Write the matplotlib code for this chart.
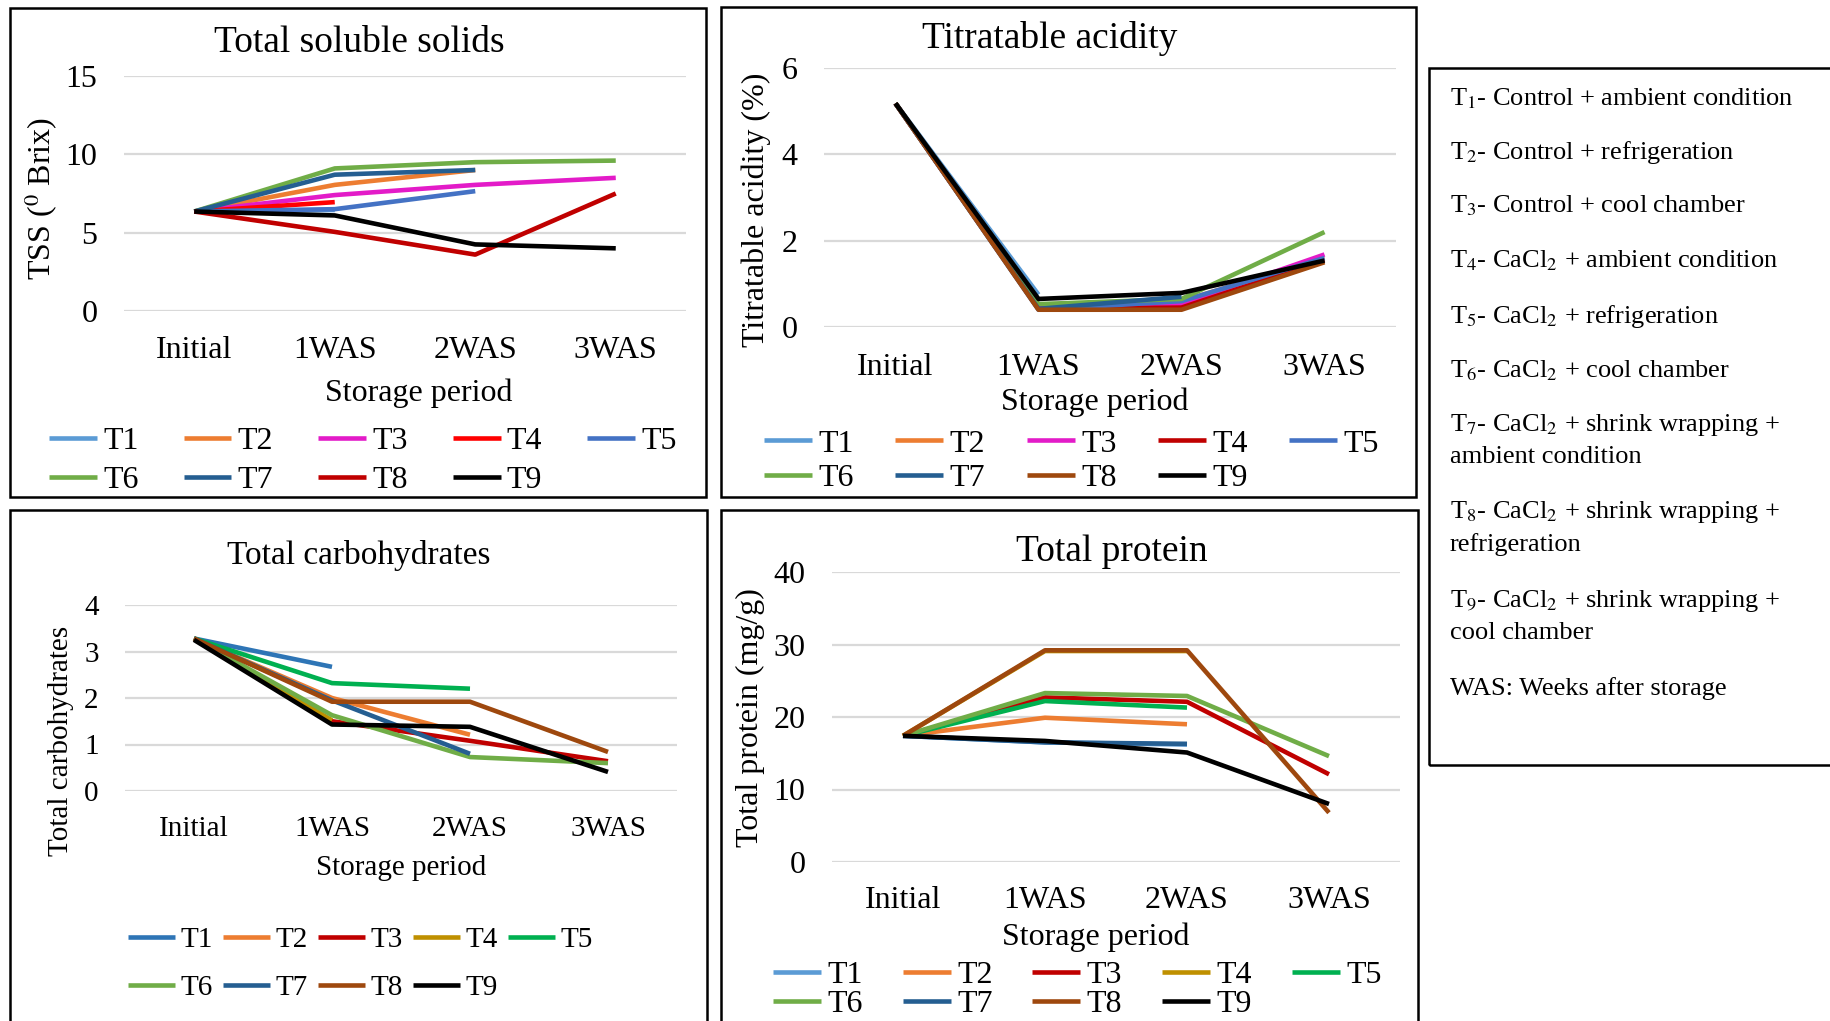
import numpy as np
import matplotlib
matplotlib.use("Agg")
import matplotlib.pyplot as plt
from matplotlib.patches import Rectangle

plt.rcParams['font.family'] = ['Liberation Serif', 'DejaVu Serif']
plt.rcParams['mathtext.fontset'] = 'stix'

W, H = 1830, 1021
nan = np.nan

periods = ['Initial', '1WAS', '2WAS', '3WAS']
treatments = ['T1', 'T2', 'T3', 'T4', 'T5', 'T6', 'T7', 'T8', 'T9']

# Total soluble solids (deg Brix)
tss = [
    [6.35, 6.45, nan, nan],
    [6.35, 8.05, 9.0, nan],
    [6.35, 7.4, 8.05, 8.5],
    [6.35, 6.95, nan, nan],
    [6.35, 6.5, 7.65, nan],
    [6.35, 9.1, 9.5, 9.6],
    [6.35, 8.7, 9.0, nan],
    [6.35, 5.05, 3.6, 7.5],
    [6.35, 6.1, 4.25, 4.0],
]
# Titratable acidity (%)
acidity = [
    [5.18, 0.75, nan, nan],
    [5.18, 0.45, 0.6, 1.6],
    [5.18, 0.5, 0.53, 1.68],
    [5.18, 0.42, 0.45, 1.55],
    [5.18, 0.4, 0.6, 1.6],
    [5.18, 0.53, 0.65, 2.2],
    [5.18, 0.42, 0.7, nan],
    [5.18, 0.4, 0.4, 1.5],
    [5.18, 0.65, 0.79, 1.54],
]
# Total carbohydrates
carbs = [
    [3.28, 2.67, nan, nan],
    [3.28, 2.0, 1.21, nan],
    [3.28, 1.5, 1.08, 0.64],
    [3.28, 1.52, nan, nan],
    [3.28, 2.32, 2.2, nan],
    [3.28, 1.63, 0.73, 0.6],
    [3.28, 1.95, 0.8, nan],
    [3.28, 1.92, 1.92, 0.84],
    [3.25, 1.43, 1.38, 0.41],
]
# Total protein (mg/g)
protein = [
    [17.4, 16.5, 16.2, nan],
    [17.4, 19.9, 19.0, nan],
    [17.4, 22.7, 22.1, 12.1],
    [17.4, 29.1, 29.1, nan],
    [17.4, 22.2, 21.3, nan],
    [17.4, 23.3, 22.9, 14.6],
    [17.4, 16.5, 16.3, nan],
    [17.4, 29.2, 29.2, 6.8],
    [17.4, 16.7, 15.1, 8.0],
]

col_tss = ['#5B9BD5', '#ED7D31', '#E31BC8', '#FF0000', '#4472C4',
           '#70AD47', '#255E91', '#C00000', '#000000']
col_acid = ['#5B9BD5', '#ED7D31', '#E31BC8', '#C00000', '#4472C4',
            '#70AD47', '#255E91', '#9E480E', '#000000']
col_carb = ['#2E75B6', '#ED7D31', '#C00000', '#BF9000', '#00B050',
            '#70AD47', '#255E91', '#9E480E', '#000000']
col_prot = ['#5B9BD5', '#ED7D31', '#C00000', '#BF9000', '#00B050',
            '#70AD47', '#255E91', '#9E480E', '#000000']

fig = plt.figure(figsize=(W / 100, H / 100), dpi=100)


def rect(l, t, r, b):
    return [l / W, 1 - b / H, (r - l) / W, (b - t) / H]


def ftext(x, y, s, size, **kw):
    fig.text(x / W, 1 - y / H, s, fontsize=size, ha=kw.pop('ha', 'center'),
             va=kw.pop('va', 'center'), **kw)


def panel(box, vals, colors, ymax, ystep, fs, xpad):
    ax = fig.add_axes(rect(*box))
    x = np.arange(len(periods))
    for name, v, c in zip(treatments, vals, colors):
        ax.plot(x, v, color=c, lw=3.3, label=name, solid_capstyle='butt')
    ax.set_xlim(-0.5, 3.5)
    ax.set_ylim(0, ymax)
    ax.set_yticks(np.arange(0, ymax + 0.1, ystep))
    ax.set_xticks(x)
    ax.set_xticklabels(periods)
    ax.yaxis.grid(True, color='#D9D9D9', lw=1.6)
    ax.set_axisbelow(True)
    for s in ax.spines.values():
        s.set_visible(False)
    ax.tick_params(axis='y', length=0, pad=19, labelsize=fs)
    ax.tick_params(axis='x', length=0, pad=xpad, labelsize=fs)
    return ax


def legend(ax, x, yc, fs, colsp, rowsp, hlen=1.5):
    h, l = ax.get_legend_handles_labels()
    order = [0, 5, 1, 6, 2, 7, 3, 8, 4]
    fig.legend([h[i] for i in order], [l[i] for i in order],
               loc='center left', bbox_to_anchor=(x / W, 1 - yc / H),
               ncol=5, frameon=False, fontsize=fs, handlelength=hlen,
               handletextpad=0.2, columnspacing=colsp, labelspacing=rowsp,
               borderpad=0, borderaxespad=0)


# panel frames
for l, t, r, b in [(10, 8, 706, 497), (721, 7, 1416, 497),
                   (10, 510, 707, 1040), (721, 510, 1418, 1040),
                   (1429, 68, 1840, 765)]:
    fig.patches.append(Rectangle((l / W, 1 - b / H), (r - l) / W, (b - t) / H,
                                 transform=fig.transFigure, fill=False,
                                 ec='black', lw=1.8))

# Total soluble solids
ax1 = panel((124, 76, 686, 311), tss, col_tss, 15, 5, 23, 18)
ftext(359, 43, 'Total soluble solids', 27)
ftext(419, 393, 'Storage period', 23)
ftext(41, 198, 'TSS ($^{0}$ Brix)', 23, rotation=90)
legend(ax1, 49, 461, 23, 1.4, 0.3)

# Titratable acidity
ax2 = panel((824, 68, 1396, 327), acidity, col_acid, 6, 2, 23, 19)
ftext(1050, 38, 'Titratable acidity', 27)
ftext(1095, 402, 'Storage period', 23)
ftext(756, 210, 'Titratable acidity (%)', 23, rotation=90)
legend(ax2, 764, 461, 23, 1.3, 0.15)

# Total carbohydrates
ax3 = panel((125, 605, 677, 791), carbs, col_carb, 4, 1, 21, 18)
ftext(359, 555, 'Total carbohydrates', 24)
ftext(401, 868, 'Storage period', 21)
ftext(61, 741, 'Total carbohydrates', 21, rotation=90)
legend(ax3, 128, 964, 21, 0.35, 0.75, hlen=1.6)

# Total protein
ax4 = panel((832, 572, 1400, 862), protein, col_prot, 40, 10, 23, 17)
ftext(1112, 552, 'Total protein', 27)
ftext(1096, 937, 'Storage period', 23)
ftext(750, 718, 'Total protein (mg/g)', 23, rotation=90)
legend(ax4, 773, 990, 23, 1.25, 0.0)

# treatment key
key_lines = [
    (96, 'T$_1$- Control + ambient condition'),
    (149, 'T$_2$- Control + refrigeration'),
    (203, 'T$_3$- Control + cool chamber'),
    (258, 'T$_4$- CaCl$_2$ + ambient condition'),
    (313, 'T$_5$- CaCl$_2$ + refrigeration'),
    (368, 'T$_6$- CaCl$_2$ + cool chamber'),
    (422, 'T$_7$- CaCl$_2$ + shrink wrapping +'),
    (454, 'ambient condition'),
    (509, 'T$_8$- CaCl$_2$ + shrink wrapping +'),
    (542, 'refrigeration'),
    (598, 'T$_9$- CaCl$_2$ + shrink wrapping +'),
    (630, 'cool chamber'),
    (686, 'WAS: Weeks after storage'),
]
for y, s in key_lines:
    ftext(1450, y + 3, s, 19, ha='left')

fig.savefig('out.png', dpi=100)
